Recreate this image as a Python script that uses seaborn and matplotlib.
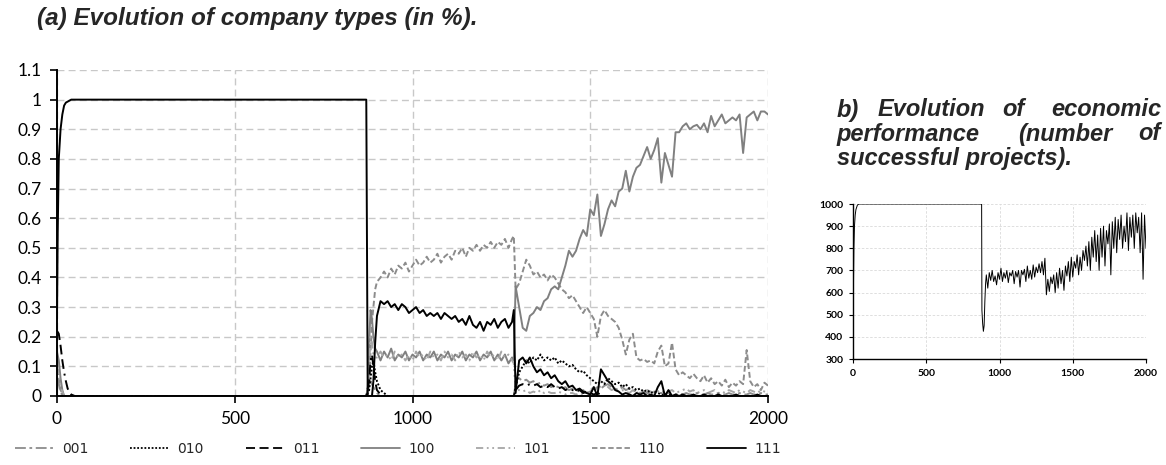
import matplotlib
matplotlib.use("Agg")
import matplotlib.pyplot as plt
import seaborn as sns
import pandas as pd
from matplotlib.lines import Line2D

# ---------------- data ----------------
T_A = list(range(900, 1290, 10))     # 900..1280
T_B = list(range(1300, 2010, 10))    # 1300..2000

# 111 (black solid)
t_111 = [0, 2, 5, 10, 15, 20, 25, 40, 870, 874, 886, 890, 895] + T_A + [1285, 1290] + T_B
v_111 = ([0.26, 0.55, 0.80, 0.90, 0.95, 0.98, 0.99, 1.0, 1.0, 0.0, 0.0, 0.05, 0.18] +
         [0.27, 0.32, 0.31, 0.32, 0.30, 0.31, 0.29, 0.31, 0.30, 0.28,
          0.29, 0.30, 0.28, 0.29, 0.27, 0.28, 0.27, 0.28, 0.26, 0.28,
          0.27, 0.26, 0.27, 0.25, 0.26, 0.24, 0.27, 0.24, 0.23, 0.25,
          0.22, 0.25, 0.24, 0.26, 0.23, 0.25, 0.26, 0.23, 0.25] +
         [0.29, 0.01] +
         [0.12, 0.13, 0.11, 0.13, 0.10, 0.08, 0.09, 0.07, 0.08, 0.06,
          0.07, 0.05, 0.04, 0.05, 0.03, 0.035, 0.02, 0.025, 0.015, 0.01,
          0.005, 0.03, 0.0, 0.09, 0.07, 0.05, 0.04, 0.02, 0.015, 0.005,
          0.01, 0.005, 0.0, 0.01, 0.005, 0.01, 0.0, 0.005, 0.0, 0.03,
          0.05, 0.0, 0.02, 0.0, 0.005, 0.0, 0.005, 0.0, 0.0, 0.005,
          0.0, 0.0, 0.005, 0.0, 0.0, 0.0, 0.005, 0.0, 0.0, 0.0,
          0.0, 0.005, 0.0, 0.0, 0.0, 0.0, 0.0, 0.005, 0.0, 0.0,
          0.0])

# 110 (gray dashed)
t_110 = [0, 5, 10, 20, 30, 870, 878, 882, 886, 890, 895] + T_A + [1285, 1290] + T_B
v_110 = ([0.12, 0.06, 0.02, 0.0, 0.0, 0.0, 0.05, 0.15, 0.25, 0.30, 0.36] +
         [0.385, 0.40, 0.42, 0.40, 0.43, 0.41, 0.44, 0.43, 0.45, 0.42,
          0.44, 0.46, 0.44, 0.45, 0.47, 0.45, 0.46, 0.48, 0.45, 0.47,
          0.48, 0.46, 0.49, 0.48, 0.50, 0.47, 0.50, 0.49, 0.51, 0.49,
          0.51, 0.50, 0.52, 0.50, 0.52, 0.51, 0.53, 0.50, 0.53] +
         [0.54, 0.36] +
         [0.38, 0.42, 0.46, 0.44, 0.41, 0.42, 0.40, 0.41, 0.39, 0.41,
          0.40, 0.38, 0.36, 0.35, 0.33, 0.34, 0.32, 0.30, 0.28, 0.30,
          0.28, 0.26, 0.20, 0.27, 0.29, 0.27, 0.26, 0.25, 0.23, 0.19,
          0.14, 0.19, 0.21, 0.13, 0.12, 0.125, 0.115, 0.12, 0.11, 0.15,
          0.17, 0.10, 0.11, 0.18, 0.09, 0.07, 0.08, 0.07, 0.06, 0.075,
          0.06, 0.05, 0.07, 0.045, 0.06, 0.04, 0.05, 0.035, 0.055, 0.03,
          0.045, 0.035, 0.05, 0.04, 0.155, 0.05, 0.03, 0.04, 0.02, 0.045,
          0.035])

# 100 (gray solid)
t_100 = [0, 5, 10, 15, 20, 30, 870, 874, 878, 882, 886, 890, 895] + T_A + [1285, 1290] + T_B
v_100 = ([0.15, 0.12, 0.06, 0.02, 0.0, 0.0, 0.0, 0.02, 0.18, 0.29, 0.26, 0.20, 0.16] +
         [0.15, 0.12, 0.15, 0.13, 0.16, 0.12, 0.14, 0.13, 0.15, 0.12,
          0.14, 0.13, 0.15, 0.12, 0.14, 0.13, 0.15, 0.12, 0.14, 0.13,
          0.15, 0.12, 0.14, 0.13, 0.15, 0.12, 0.14, 0.13, 0.15, 0.12,
          0.14, 0.13, 0.15, 0.12, 0.14, 0.12, 0.14, 0.11, 0.13] +
         [0.12, 0.37] +
         [0.30, 0.23, 0.22, 0.27, 0.28, 0.30, 0.29, 0.32, 0.33, 0.36,
          0.37, 0.36, 0.40, 0.44, 0.49, 0.47, 0.49, 0.53, 0.56, 0.54,
          0.63, 0.61, 0.68, 0.54, 0.58, 0.63, 0.66, 0.64, 0.69, 0.70,
          0.76, 0.69, 0.74, 0.77, 0.78, 0.81, 0.84, 0.80, 0.83, 0.87,
          0.72, 0.82, 0.78, 0.74, 0.89, 0.89, 0.91, 0.92, 0.90, 0.91,
          0.915, 0.90, 0.92, 0.89, 0.945, 0.91, 0.93, 0.95, 0.92, 0.93,
          0.94, 0.93, 0.95, 0.82, 0.94, 0.95, 0.96, 0.93, 0.96, 0.96,
          0.95])

# 101 (light gray dash-dot-dot)
t_101 = [0, 5, 10, 20, 870, 874, 878, 882, 886, 890, 895] + T_A + [1285, 1290] + T_B
v_101 = ([0.10, 0.07, 0.03, 0.0, 0.0, 0.01, 0.10, 0.20, 0.18, 0.14, 0.13] +
         [0.13, 0.15, 0.13, 0.14, 0.12, 0.15, 0.13, 0.14, 0.12, 0.14,
          0.12, 0.15, 0.13, 0.14, 0.12, 0.15, 0.13, 0.14, 0.12, 0.15,
          0.13, 0.14, 0.12, 0.15, 0.13, 0.14, 0.12, 0.15, 0.13, 0.14,
          0.12, 0.15, 0.13, 0.14, 0.12, 0.15, 0.13, 0.14, 0.12] +
         [0.11, 0.02] +
         [0.02, 0.015, 0.02, 0.01, 0.015, 0.01, 0.02, 0.01, 0.015, 0.01,
          0.01, 0.015, 0.01, 0.005, 0.01, 0.01, 0.005, 0.01, 0.005, 0.01,
          0.02, 0.03, 0.02, 0.035, 0.045, 0.03, 0.02, 0.025, 0.015, 0.02,
          0.015, 0.01, 0.02, 0.01, 0.015, 0.01, 0.02, 0.015, 0.01, 0.015,
          0.02, 0.01, 0.015, 0.02, 0.01, 0.015, 0.02, 0.025, 0.015, 0.02,
          0.01, 0.015, 0.02, 0.01, 0.015, 0.02, 0.01, 0.015, 0.01, 0.02,
          0.015, 0.01, 0.02, 0.015, 0.01, 0.02, 0.015, 0.01, 0.02, 0.015,
          0.01])

# 001 (gray dash-dot)
t_001 = [0, 5, 10, 20, 870, 878, 882, 886, 890, 895, 900, 910, 1280, 1285, 1290] + T_B
v_001 = ([0.06, 0.04, 0.01, 0.0, 0.0, 0.03, 0.05, 0.04, 0.03, 0.02, 0.01, 0.0, 0.0, 0.0, 0.04] +
         [0.06, 0.05, 0.055, 0.045, 0.05, 0.04, 0.045, 0.035, 0.04, 0.03,
          0.035, 0.03, 0.025, 0.03, 0.02, 0.025, 0.02, 0.015, 0.02, 0.01,
          0.015, 0.02, 0.03, 0.025, 0.035, 0.04, 0.03, 0.025, 0.02, 0.03,
          0.02, 0.025, 0.015, 0.02, 0.01, 0.015, 0.01, 0.01, 0.015, 0.01,
          0.01, 0.005, 0.01, 0.01, 0.005, 0.01, 0.005, 0.01, 0.005, 0.005,
          0.01, 0.005, 0.005, 0.01, 0.005, 0.005, 0.01, 0.005, 0.005, 0.01,
          0.005, 0.005, 0.01, 0.005, 0.005, 0.01, 0.005, 0.005, 0.01, 0.005,
          0.005])

# 010 (black dotted)
t_010 = [0, 870, 878, 882, 886, 890, 895, 900, 910, 920, 930, 1280, 1285, 1290] + T_B
v_010 = ([0.0, 0.0, 0.02, 0.06, 0.10, 0.12, 0.08, 0.05, 0.02, 0.01, 0.0, 0.0, 0.0, 0.03] +
         [0.08, 0.10, 0.12, 0.11, 0.13, 0.12, 0.14, 0.12, 0.13, 0.12,
          0.13, 0.11, 0.12, 0.11, 0.10, 0.105, 0.09, 0.08, 0.085, 0.07,
          0.06, 0.05, 0.04, 0.05, 0.04, 0.06, 0.05, 0.04, 0.045, 0.03,
          0.04, 0.025, 0.03, 0.02, 0.025, 0.015, 0.02, 0.01, 0.015, 0.01,
          0.005, 0.0, 0.005, 0.0, 0.0, 0.0, 0.0, 0.0, 0.0, 0.0,
          0.0, 0.0, 0.0, 0.0, 0.0, 0.0, 0.0, 0.0, 0.0, 0.0,
          0.0, 0.0, 0.0, 0.0, 0.0, 0.0, 0.0, 0.0, 0.0, 0.0,
          0.0])

# 011 (black long dash)
t_011 = [0, 5, 10, 15, 20, 25, 30, 40, 50, 870, 878, 882, 886, 890, 895, 900, 910, 920,
         1280, 1285, 1290] + T_B
v_011 = ([0.22, 0.21, 0.17, 0.12, 0.08, 0.05, 0.025, 0.005, 0.0, 0.0, 0.05, 0.12, 0.14, 0.10,
          0.05, 0.02, 0.005, 0.0, 0.0, 0.0, 0.02] +
         [0.035, 0.04, 0.035, 0.04, 0.035, 0.04, 0.03, 0.035, 0.03, 0.04,
          0.03, 0.025, 0.03, 0.02, 0.025, 0.02, 0.015, 0.02, 0.01, 0.015,
          0.01, 0.005, 0.01, 0.005, 0.0, 0.0, 0.0, 0.0, 0.0, 0.0] + [0.0] * 41)

# performance (right chart)
t_perf = [0, 3, 6, 10, 15, 20, 30, 40, 870, 878, 880, 885, 890, 895, 900, 905] + list(range(910, 2010, 10))
v_perf = ([370, 620, 800, 900, 950, 975, 995, 1000, 1000, 1000, 520, 460, 425, 450, 560, 640] +
          [680, 620, 690, 655, 700, 650, 675, 635, 690,
           660, 710, 650, 690, 665, 700, 645, 690, 675, 700,
           640, 695, 670, 700, 625, 700, 680, 705, 650, 720,
           665, 700, 660, 725, 670, 715, 690, 730, 690, 740,
           680, 755, 590, 660, 605, 670, 640, 680, 600, 690,
           620, 710, 640, 700, 610, 720, 675, 740, 650, 760,
           670, 740, 710, 770, 680, 760, 700, 790, 745, 810,
           720, 830, 700, 850, 760, 880, 740, 860, 700, 890,
           760, 900, 720, 880, 820, 910, 680, 920, 800, 940,
           780, 930, 840, 950, 800, 900, 830, 960, 790, 940,
           850, 950, 800, 960, 870, 940, 780, 960, 660, 950,
           800])

types = ['001', '010', '011', '100', '101', '110', '111']
y_ticks = [0, 0.1, 0.2, 0.3, 0.4, 0.5, 0.6, 0.7, 0.8, 0.9, 1.0, 1.1]
y_labels = ['0', '0.1', '0.2', '0.3', '0.4', '0.5', '0.6', '0.7', '0.8', '0.9', '1', '1.1']
x_ticks = [0, 500, 1000, 1500, 2000]
perf_y_ticks = [300, 400, 500, 600, 700, 800, 900, 1000]

series = {'001': (t_001, v_001), '010': (t_010, v_010), '011': (t_011, v_011),
          '100': (t_100, v_100), '101': (t_101, v_101), '110': (t_110, v_110),
          '111': (t_111, v_111)}
df = pd.concat([pd.DataFrame({'t': t, 'v': v, 'type': k}) for k, (t, v) in series.items()],
               ignore_index=True)
df_perf = pd.DataFrame({'t': t_perf, 'v': v_perf})

# ---------------- style ----------------
sns.set_theme(style='white')
plt.rcParams['font.family'] = ['Lato', 'DejaVu Sans']

colors = {'001': '#8c8c8c', '010': '#000000', '011': '#000000', '100': '#808080',
          '101': '#a6a6a6', '110': '#8c8c8c', '111': '#000000'}
dashes = {'001': (6, 2, 1.5, 2), '010': (1, 1), '011': (5, 2.5, 5, 2.5, 5, 2.5, 1, 2.5),
          '100': '', '101': (4, 2, 1, 2, 1, 2), '110': (3, 1.5), '111': ''}
draw_order = ['110', '100', '101', '001', '011', '010', '111']

W, H = 1166, 465
fig = plt.figure(figsize=(W / 100, H / 100), dpi=100)

ax = fig.add_axes([57 / W, 1 - 396 / H, (768 - 57) / W, (396 - 70) / H])
sns.lineplot(data=df, x='t', y='v', hue='type', style='type', hue_order=draw_order,
             style_order=draw_order, palette=colors, dashes=dashes, estimator=None,
             linewidth=1.4, legend=False, ax=ax)
ax.set_xlim(0, 2000)
ax.set_ylim(0, 1.1)
ax.set_xticks(x_ticks)
ax.set_yticks(y_ticks)
ax.set_yticklabels(y_labels)
ax.set_xlabel('')
ax.set_ylabel('')
ax.grid(True, color='#c8c8c8', linestyle=(0, (5, 3)), linewidth=1.0)
for s in ['top', 'right']:
    ax.spines[s].set_visible(False)
for s in ['left', 'bottom']:
    ax.spines[s].set_color('black')
    ax.spines[s].set_linewidth(1.4)
ax.tick_params(bottom=True, left=True, direction='out', length=5, width=1.2,
               color='black', labelsize=12.5, labelcolor='black', pad=6)

handles = []
for k in types:
    h = Line2D([], [], color=colors[k], linewidth=1.3)
    if dashes[k]:
        h.set_dashes(dashes[k])
    handles.append(h)
fig.legend(handles, types, loc='center', bbox_to_anchor=(398 / W, 1 - 449 / H), ncol=7,
           frameon=False, handlelength=2.8, columnspacing=3.0, handletextpad=0.6,
           prop={'family': ['Liberation Sans Narrow', 'DejaVu Sans'], 'size': 10})

fig.text(37 / W, 1 - 19 / H, '(a) Evolution of company types (in %).', fontsize=17.5,
         fontweight='bold', fontstyle='italic', family=['Liberation Sans', 'DejaVu Sans'],
         ha='left', va='center')

tfont = dict(fontsize=17, fontweight='bold', fontstyle='italic',
             family=['Liberation Sans', 'DejaVu Sans'], va='center')
fig.text(837 / W, 1 - 110 / H, 'b)', ha='left', **tfont)
fig.text(878 / W, 1 - 110 / H, 'Evolution', ha='left', **tfont)
fig.text(1002 / W, 1 - 110 / H, 'of', ha='left', **tfont)
fig.text(1161 / W, 1 - 110 / H, 'economic', ha='right', **tfont)
fig.text(837 / W, 1 - 134 / H, 'performance', ha='left', **tfont)
fig.text(1018 / W, 1 - 134 / H, '(number', ha='left', **tfont)
fig.text(1161 / W, 1 - 134 / H, 'of', ha='right', **tfont)
fig.text(837 / W, 1 - 158 / H, 'successful projects).', ha='left', **tfont)

ax2 = fig.add_axes([853 / W, 1 - 359 / H, (1146 - 853) / W, (359 - 204) / H])
sns.lineplot(data=df_perf, x='t', y='v', color='black', linewidth=0.7, estimator=None, ax=ax2)
ax2.set_xlim(0, 2000)
ax2.set_ylim(300, 1000)
ax2.set_xticks(x_ticks)
ax2.set_yticks(perf_y_ticks)
ax2.set_xlabel('')
ax2.set_ylabel('')
ax2.grid(True, color='#d9d9d9', linestyle=(0, (3, 2)), linewidth=0.6)
for s in ['top', 'right']:
    ax2.spines[s].set_visible(False)
for s in ['left', 'bottom']:
    ax2.spines[s].set_color('black')
    ax2.spines[s].set_linewidth(1.0)
ax2.tick_params(bottom=True, left=True, direction='out', length=3, width=0.8,
                color='black', labelsize=7.5, labelcolor='black', pad=4)
for lab in ax2.get_xticklabels() + ax2.get_yticklabels():
    lab.set_fontweight('bold')

fig.savefig('out.png', dpi=100)
